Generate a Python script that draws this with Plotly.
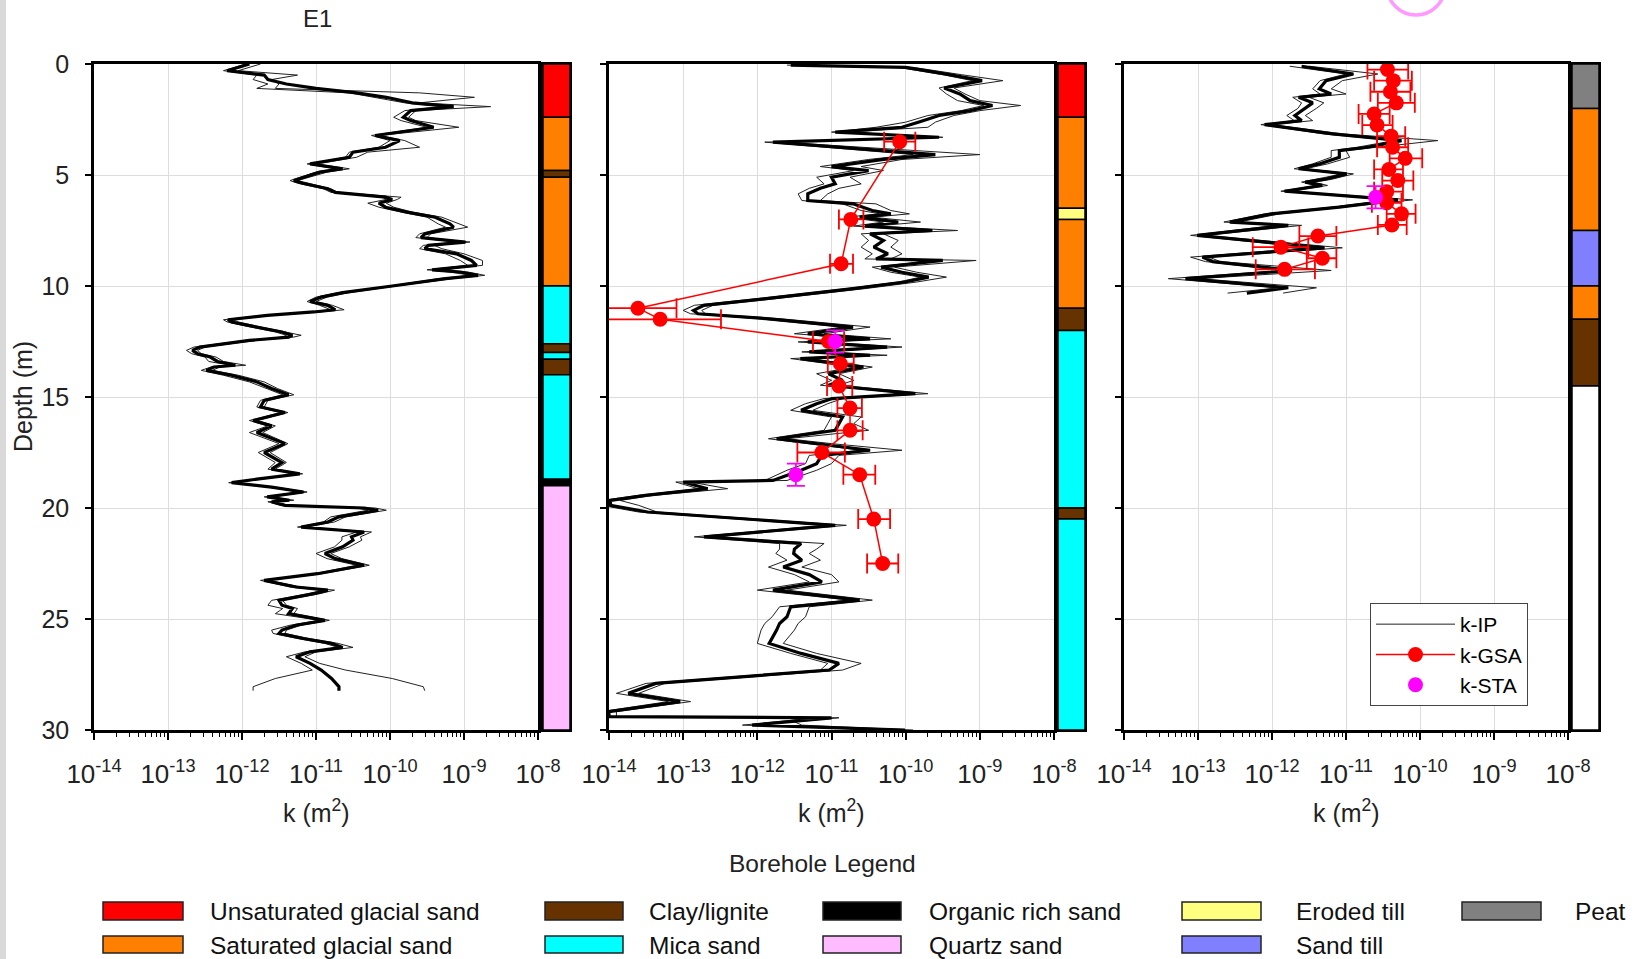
import plotly.graph_objects as go

# ---------------- data (k values stored as log10 exponents, m^2) ----------------
# Panel 1 (E1) k-IP: depth (m), central estimate and two envelope curves
p1_depth = [0.00, 0.30, 0.50, 0.70, 0.90, 1.10, 1.30, 1.50, 1.75, 1.92, 2.10, 2.40, 2.55, 2.85, 3.22, 3.45,
            3.75, 3.97, 4.20, 4.35, 4.50, 4.72, 4.87, 5.25, 5.37, 5.62, 5.78, 6.00, 6.10, 6.27, 6.45, 6.67,
            6.90, 7.20, 7.35, 7.65, 7.82, 8.02, 8.17, 8.32, 8.55, 8.85, 9.07, 9.27, 9.37, 9.52, 9.67, 10.00,
            10.30, 10.50, 10.70, 10.87, 11.07, 11.17, 11.32, 11.52, 11.62, 11.82, 12.07, 12.22, 12.30, 12.45,
            12.75, 12.90, 13.05, 13.20, 13.40, 13.57, 13.65, 13.80, 14.02, 14.32, 14.62, 14.90, 15.15, 15.45,
            15.70, 16.06, 16.30, 16.60, 17.10, 17.50, 17.95, 18.25, 18.46, 18.70, 18.86, 19.06, 19.28, 19.50,
            19.65, 19.72, 19.88, 20.00, 20.10, 20.40, 20.63, 20.86, 21.08, 21.30, 21.45, 21.75, 22.05, 22.28,
            22.58, 22.96, 23.26, 23.56, 23.70, 23.86, 24.16, 24.38, 24.53, 24.76, 25.06, 25.28, 25.50, 25.65,
            25.88, 26.10, 26.28, 26.48, 26.70, 27.00, 27.30, 27.68, 28.05, 28.23]
p1_log10k = [-11.90, -12.20, -11.70, -11.65, -11.40, -11.00, -10.45, -10.05, -9.70, -9.14, -9.72, -9.82, -9.72,
             -9.41, -10.20, -9.87, -10.06, -10.50, -10.55, -10.80, -11.08, -10.64, -10.95, -11.30, -11.18,
             -10.84, -10.74, -10.06, -9.97, -10.15, -10.06, -9.77, -9.39, -9.19, -9.14, -9.53, -9.58, -8.98,
             -9.48, -9.53, -9.10, -8.90, -8.83, -9.43, -9.05, -8.81, -9.25, -9.97, -10.64, -10.93, -11.08,
             -10.84, -10.74, -11.03, -11.66, -12.19, -12.14, -11.85, -11.46, -11.32, -11.37, -11.90, -12.57,
             -12.67, -12.60, -12.43, -12.33, -12.09, -12.38, -12.48, -12.14, -11.80, -11.60, -11.37, -11.70,
             -11.75, -11.42, -11.85, -11.60, -11.80, -11.42, -11.70, -11.46, -11.60, -11.22, -11.80, -12.14,
             -11.60, -11.17, -11.66, -11.36, -11.60, -11.42, -10.35, -10.16, -10.69, -10.84, -11.20, -10.35,
             -10.52, -10.50, -10.64, -10.88, -10.74, -10.35, -10.98, -11.70, -11.27, -10.84, -11.03, -11.50,
             -11.46, -11.32, -11.37, -10.88, -11.27, -11.46, -11.50, -11.17, -10.79, -10.64, -11.08, -11.27,
             -11.08, -10.93, -10.79, -10.69, -10.69]
p1_log10k_lo = [-11.95, -12.25, -11.80, -11.85, -11.65, -11.80, -10.55, -10.20, -9.80, -9.30, -9.80, -9.95,
                -9.85, -9.50, -10.25, -10.00, -10.15, -10.55, -10.60, -10.85, -11.12, -10.75, -11.00, -11.35,
                -11.25, -10.90, -10.80, -10.10, -10.05, -10.30, -10.15, -9.85, -9.50, -9.35, -9.25, -9.60,
                -9.65, -9.10, -9.55, -9.60, -9.25, -9.05, -8.95, -9.50, -9.20, -8.90, -9.35, -10.00, -10.70,
                -11.00, -11.12, -10.95, -10.80, -11.10, -11.70, -12.25, -12.20, -11.92, -11.55, -11.40, -11.45,
                -11.95, -12.65, -12.75, -12.68, -12.50, -12.45, -12.15, -12.42, -12.55, -12.25, -11.90, -11.68,
                -11.45, -11.75, -11.80, -11.48, -11.90, -11.65, -11.90, -11.50, -11.78, -11.55, -11.65, -11.28,
                -11.85, -12.18, -11.65, -11.22, -11.70, -11.42, -11.65, -11.48, -10.45, -10.30, -10.80, -10.90,
                -11.25, -10.45, -10.65, -10.65, -10.75, -11.00, -10.85, -10.45, -11.02, -11.75, -11.35, -10.92,
                -11.10, -11.60, -11.65, -11.45, -11.55, -10.95, -11.35, -11.60, -11.58, -11.25, -10.88, -10.70,
                -11.15, -11.40, -11.20, -11.05, -11.55, -11.85, -11.85]
p1_log10k_hi = [-11.75, -12.05, -11.25, -11.60, -11.50, -11.55, -9.60, -8.86, -9.60, -8.64, -9.65, -9.75,
                -9.65, -9.07, -10.15, -9.80, -9.60, -10.30, -10.45, -10.70, -11.00, -10.55, -10.85, -11.25,
                -11.10, -10.80, -10.70, -9.85, -9.90, -10.05, -9.95, -9.70, -9.30, -9.05, -8.95, -9.45, -9.50,
                -8.92, -9.40, -9.30, -9.00, -8.75, -8.75, -9.35, -8.95, -8.72, -9.15, -9.92, -10.55, -10.85,
                -11.00, -10.78, -10.62, -10.95, -11.60, -12.12, -12.05, -11.78, -11.40, -11.20, -11.30, -11.80,
                -12.50, -12.60, -12.55, -12.35, -12.25, -11.95, -12.30, -12.40, -12.05, -11.70, -11.52, -11.30,
                -11.65, -11.70, -11.38, -11.80, -11.55, -11.72, -11.38, -11.62, -11.40, -11.55, -11.18, -11.75,
                -12.10, -11.55, -11.12, -11.60, -11.30, -11.55, -11.38, -10.20, -10.05, -10.60, -10.75, -11.15,
                -10.25, -10.40, -10.38, -10.55, -10.80, -10.65, -10.28, -10.92, -11.65, -11.20, -10.75, -10.95,
                -11.45, -11.40, -11.25, -11.30, -10.82, -11.20, -11.40, -11.42, -11.10, -10.70, -10.50, -11.00,
                -11.15, -10.95, -10.60, -9.97, -9.55, -9.53]

# Panel 2 k-IP
p2_depth = [0.05, 0.15, 0.48, 0.75, 1.08, 1.35, 1.65, 1.87, 2.10, 2.32, 2.62, 2.85, 3.07, 3.30, 3.52, 4.08,
            4.30, 4.62, 4.80, 5.10, 5.40, 5.60, 5.85, 6.15, 6.30, 6.60, 6.75, 6.90, 7.12, 7.30, 7.50, 7.65,
            7.95, 8.25, 8.55, 8.78, 8.85, 9.15, 9.38, 9.60, 9.82, 10.12, 10.57, 10.87, 11.10, 11.25, 11.47,
            11.85, 12.15, 12.38, 12.52, 12.75, 12.97, 13.12, 13.27, 13.65, 13.95, 14.25, 14.47, 14.85, 15.07,
            15.30, 15.60, 15.90, 16.20, 16.50, 16.88, 17.10, 17.40, 17.63, 18.00, 18.30, 18.76, 18.83, 19.13,
            19.43, 19.66, 19.88, 20.18, 20.78, 21.30, 21.60, 21.85, 22.05, 22.35, 22.66, 23.00, 23.33, 23.70,
            24.15, 24.45, 24.90, 25.20, 25.50, 26.10, 26.55, 27.00, 27.30, 27.90, 28.35, 28.72, 29.17, 29.40,
            29.45, 29.63, 29.78, 30.00]
p2_log10k = [-11.55, -10.00, -9.41, -8.97, -9.48, -9.27, -9.13, -8.83, -9.13, -9.55, -9.83, -10.05, -10.95,
             -9.55, -11.79, -9.60, -10.30, -11.00, -10.50, -11.00, -10.95, -11.15, -11.32, -11.32, -10.71,
             -10.45, -10.20, -10.62, -10.10, -10.55, -9.64, -10.48, -10.30, -10.43, -10.24, -10.40, -9.50,
             -10.33, -10.05, -9.69, -10.01, -10.71, -11.88, -12.72, -12.86, -12.80, -11.88, -10.71, -11.32,
             -10.48, -11.32, -10.25, -11.30, -10.48, -11.42, -10.57, -11.04, -10.85, -11.04, -9.87, -10.99,
             -11.20, -11.41, -10.85, -10.90, -10.95, -11.74, -11.18, -10.48, -11.13, -11.20, -11.41, -11.79,
             -13.00, -12.67, -13.51, -13.98, -13.98, -13.48, -10.95, -12.72, -11.41, -11.50, -11.51, -11.40,
             -11.65, -11.30, -11.13, -11.79, -10.62, -11.55, -11.60, -11.70, -11.74, -11.84, -11.41, -10.90,
             -11.03, -13.37, -13.74, -13.04, -14.00, -14.00, -11.00, -11.65, -12.07, -10.01]
p2_log10k_lo = [-11.60, -10.10, -9.50, -9.10, -9.55, -9.45, -9.30, -8.95, -9.25, -9.70, -10.00, -10.40, -11.00,
                -9.60, -11.90, -9.90, -10.50, -11.15, -10.70, -11.20, -11.10, -11.30, -11.45, -11.40, -10.85,
                -10.60, -10.35, -10.80, -10.30, -10.70, -9.80, -10.60, -10.50, -10.60, -10.45, -10.55, -9.60,
                -10.45, -10.20, -9.80, -10.10, -10.80, -12.00, -12.85, -13.00, -12.90, -12.00, -10.85, -11.50,
                -10.60, -11.45, -10.40, -11.40, -10.60, -11.55, -10.70, -11.20, -11.00, -11.15, -9.95, -11.10,
                -11.35, -11.55, -11.00, -11.05, -11.10, -11.85, -11.30, -10.60, -11.30, -11.35, -11.60, -11.90,
                -13.10, -12.80, -13.60, -14.10, -14.10, -13.60, -11.10, -12.85, -11.70, -11.70, -11.75, -11.60,
                -11.85, -11.50, -11.30, -12.00, -10.75, -11.70, -11.80, -11.90, -11.95, -12.00, -11.55, -11.05,
                -11.15, -13.50, -13.90, -13.20, -14.10, -14.10, -11.20, -11.80, -12.20, -10.20]
p2_log10k_hi = [-11.50, -9.90, -9.25, -8.69, -9.35, -9.20, -9.00, -8.45, -9.00, -9.35, -9.60, -9.70, -10.80,
                -9.50, -11.70, -9.00, -10.05, -10.60, -10.30, -10.75, -10.60, -10.90, -11.05, -11.15, -10.40,
                -10.20, -9.95, -10.45, -9.80, -10.40, -9.30, -10.30, -10.10, -10.20, -10.05, -10.20, -9.05,
                -10.15, -9.85, -9.45, -9.85, -10.55, -11.75, -12.60, -12.75, -12.70, -11.70, -10.48, -11.10,
                -10.20, -11.15, -10.05, -11.15, -10.25, -11.30, -10.45, -10.90, -10.70, -10.90, -9.70, -10.85,
                -11.05, -11.25, -10.60, -10.70, -10.50, -11.60, -11.00, -10.05, -10.90, -11.00, -11.20, -11.60,
                -12.90, -12.40, -13.40, -13.85, -13.60, -13.35, -10.80, -12.60, -11.10, -11.20, -11.30, -11.15,
                -11.40, -11.00, -10.90, -11.60, -10.45, -11.30, -11.35, -11.45, -11.50, -11.65, -11.20, -10.60,
                -10.85, -13.25, -13.60, -12.90, -13.90, -13.90, -10.90, -11.50, -11.40, -9.90]

# Panel 3 k-IP
p3_depth = [0.10, 0.45, 0.75, 1.12, 1.35, 1.50, 1.75, 2.00, 2.32, 2.55, 2.73, 3.15, 3.45, 3.75, 3.90, 4.20,
            4.50, 4.72, 4.95, 5.20, 5.32, 5.47, 5.73, 6.12, 6.45, 6.75, 7.12, 7.27, 7.72, 8.28, 8.70, 8.90,
            9.30, 9.67, 10.08, 10.32]
p3_log10k = [-11.60, -10.90, -11.27, -11.36, -11.20, -11.64, -11.45, -11.55, -11.69, -11.60, -12.10, -11.18,
             -10.25, -10.71, -11.09, -11.09, -11.36, -11.64, -10.99, -11.30, -11.55, -11.32, -11.83, -10.30,
             -11.09, -12.01, -12.57, -11.78, -13.01, -11.29, -12.94, -12.80, -11.73, -13.17, -11.78, -12.34]
p3_log10k_lo = [-11.76, -11.00, -11.35, -11.45, -11.35, -11.72, -11.60, -11.65, -11.80, -11.70, -12.15, -11.30,
                -10.35, -10.85, -11.20, -11.20, -11.45, -11.70, -11.05, -11.40, -11.60, -11.40, -11.88, -10.40,
                -11.20, -12.10, -12.65, -11.95, -13.10, -11.50, -13.10, -12.90, -11.85, -13.40, -11.90, -12.60]
p3_log10k_hi = [-11.50, -10.57, -11.05, -11.20, -11.00, -11.50, -11.30, -11.40, -11.55, -11.45, -12.00, -11.05,
                -9.76, -10.60, -11.00, -10.95, -11.25, -11.55, -10.90, -11.20, -11.45, -11.25, -11.75, -10.10,
                -11.00, -11.90, -12.45, -11.60, -12.90, -11.05, -12.85, -12.70, -11.20, -13.00, -11.40, -11.85]

# k-GSA (grain size analysis) points with horizontal error bounds
p2_gsa_depth = [3.5, 7.0, 9.0, 11.0, 11.5, 12.5, 13.5, 14.5, 15.5, 16.5, 17.5, 18.5, 20.5, 22.5]
p2_gsa_log10k = [-10.08, -10.74, -10.87, -13.61, -13.31, -11.04, -10.88, -10.90, -10.75, -10.75, -11.13, -10.62, -10.43, -10.31]
p2_gsa_log10k_lo = [-10.29, -10.90, -11.02, -15.00, -15.00, -11.25, -11.05, -11.06, -10.92, -10.92, -11.46, -10.84, -10.64, -10.52]
p2_gsa_log10k_hi = [-9.87, -10.57, -10.71, -13.09, -12.49, -10.83, -10.70, -10.72, -10.59, -10.58, -10.82, -10.41, -10.21, -10.10]

p3_gsa_depth = [0.25, 0.75, 1.25, 1.75, 2.25, 2.75, 3.25, 3.75, 4.25, 4.75, 5.25, 5.75, 6.25, 6.75, 7.25, 7.75, 8.25, 8.75, 9.25]
p3_gsa_log10k = [-10.44, -10.36, -10.40, -10.32, -10.62, -10.58, -10.39, -10.37, -10.20, -10.42, -10.30, -10.45,
                 -10.45, -10.25, -10.38, -11.38, -11.88, -11.32, -11.83]
p3_gsa_log10k_lo = [-10.71, -10.62, -10.67, -10.57, -10.83, -10.78, -10.58, -10.58, -10.41, -10.62, -10.51, -10.62,
                    -10.65, -10.45, -10.57, -11.63, -12.26, -11.53, -12.22]
p3_gsa_log10k_hi = [-10.16, -10.11, -10.13, -10.07, -10.41, -10.37, -10.20, -10.16, -9.97, -10.23, -10.09, -10.23,
                    -10.25, -10.06, -10.18, -11.13, -11.51, -11.13, -11.42]

# k-STA points with vertical (depth) error
p2_sta_depth = [12.5, 18.5]
p2_sta_log10k = [-10.95, -11.48]
p2_sta_depth_err = [0.5, 0.5]
p3_sta_depth = [6.0]
p3_sta_log10k = [-10.60]
p3_sta_depth_err = [0.5]

# Borehole lithology columns
s1_top = [0.0, 2.4, 4.8, 5.1, 10.0, 12.6, 13.0, 13.3, 14.0, 18.7, 19.0]
s1_bot = [2.4, 4.8, 5.1, 10.0, 12.6, 13.0, 13.3, 14.0, 18.7, 19.0, 30.0]
s1_unit = ['Unsaturated glacial sand', 'Saturated glacial sand', 'Clay/lignite', 'Saturated glacial sand',
           'Mica sand', 'Clay/lignite', 'Mica sand', 'Clay/lignite', 'Mica sand', 'Organic rich sand', 'Quartz sand']
s2_top = [0.0, 2.4, 6.5, 7.0, 11.0, 12.0, 20.0, 20.5]
s2_bot = [2.4, 6.5, 7.0, 11.0, 12.0, 20.0, 20.5, 30.0]
s2_unit = ['Unsaturated glacial sand', 'Saturated glacial sand', 'Eroded till', 'Saturated glacial sand',
           'Clay/lignite', 'Mica sand', 'Clay/lignite', 'Mica sand']
s3_top = [0.0, 2.0, 7.5, 10.0, 11.5, 14.5]
s3_bot = [2.0, 7.5, 10.0, 11.5, 14.5, 30.0]
s3_unit = ['Peat', 'Saturated glacial sand', 'Sand till', 'Saturated glacial sand', 'Clay/lignite', 'none']

legend_row1 = ['Unsaturated glacial sand', 'Clay/lignite', 'Organic rich sand', 'Eroded till', 'Peat']
legend_row2 = ['Saturated glacial sand', 'Mica sand', 'Quartz sand', 'Sand till']

x_tick_exponents = [-14, -13, -12, -11, -10, -9, -8]
y_ticks = [0, 5, 10, 15, 20, 25, 30]

unit_color = {
    'Unsaturated glacial sand': '#FF0000', 'Saturated glacial sand': '#FF8000', 'Clay/lignite': '#663300',
    'Mica sand': '#00FFFF', 'Organic rich sand': '#000000', 'Quartz sand': '#FFBBFF', 'Eroded till': '#FFFF80',
    'Sand till': '#8080FF', 'Peat': '#808080', 'none': '#FFFFFF'}

# ---------------- layout helpers ----------------
W, H = 1639, 959
FONT = 'Arial, Liberation Sans, sans-serif'

def fx(t):
    return t / W

def fy(t):
    return 1 - t / H

TOP, BOT = 64, 730
panels = [(94, 538), (609, 1054), (1124, 1568)]
strips = [(543, 570), (1058, 1085), (1572, 1599)]

fig = go.Figure()

def exp10(lst):
    return [10 ** v for v in lst]

def ax(n):
    return ('x' if n == 1 else f'x{n}'), ('y' if n == 1 else f'y{n}')

panel_ids = [1, 3, 5]
strip_ids = [2, 4, 6]

kip = [(p1_depth, p1_log10k, p1_log10k_lo, p1_log10k_hi),
       (p2_depth, p2_log10k, p2_log10k_lo, p2_log10k_hi),
       (p3_depth, p3_log10k, p3_log10k_lo, p3_log10k_hi)]

for i, (d, mid, lo, hi) in enumerate(kip):
    xr, yr = ax(panel_ids[i])
    for j, env in enumerate((lo, hi)):
        fig.add_trace(go.Scatter(x=exp10(env), y=d, mode='lines', xaxis=xr, yaxis=yr,
                                 line=dict(color='#222222', width=1),
                                 name='k-IP', showlegend=(i == 2 and j == 0), legendrank=1))
    fig.add_trace(go.Scatter(x=exp10(mid), y=d, mode='lines', xaxis=xr, yaxis=yr,
                             line=dict(color='black', width=3.2), showlegend=False))

def gsa_trace(d, k, lo, hi, xr, yr, show):
    kk = exp10(k)
    plus = [10 ** h - v for h, v in zip(hi, kk)]
    minus = [v - 10 ** l for l, v in zip(lo, kk)]
    return go.Scatter(x=kk, y=d, mode='lines+markers', xaxis=xr, yaxis=yr, name='k-GSA',
                      line=dict(color='#FF0000', width=1.5),
                      marker=dict(color='#FF0000', size=15),
                      error_x=dict(type='data', symmetric=False, array=plus, arrayminus=minus,
                                   color='#FF0000', thickness=1.8, width=10),
                      showlegend=show, legendrank=2)

xr, yr = ax(3)
fig.add_trace(gsa_trace(p2_gsa_depth, p2_gsa_log10k, p2_gsa_log10k_lo, p2_gsa_log10k_hi, xr, yr, False))
xr, yr = ax(5)
fig.add_trace(gsa_trace(p3_gsa_depth, p3_gsa_log10k, p3_gsa_log10k_lo, p3_gsa_log10k_hi, xr, yr, True))

def sta_trace(d, k, derr, xr, yr, show):
    return go.Scatter(x=exp10(k), y=d, mode='markers', xaxis=xr, yaxis=yr, name='k-STA',
                      marker=dict(color='#FF00FF', size=15),
                      error_y=dict(type='data', array=derr, color='#FF00FF', thickness=1.8, width=9),
                      showlegend=show, legendrank=3)

xr, yr = ax(3)
fig.add_trace(sta_trace(p2_sta_depth, p2_sta_log10k, p2_sta_depth_err, xr, yr, False))
xr, yr = ax(5)
fig.add_trace(sta_trace(p3_sta_depth, p3_sta_log10k, p3_sta_depth_err, xr, yr, True))

# lithology columns as stacked bars
for i, (tops, bots, units) in enumerate([(s1_top, s1_bot, s1_unit), (s2_top, s2_bot, s2_unit), (s3_top, s3_bot, s3_unit)]):
    xr, yr = ax(strip_ids[i])
    fig.add_trace(go.Bar(x=[0.5] * len(tops), y=[b - t for t, b in zip(tops, bots)], base=tops,
                         width=1, xaxis=xr, yaxis=yr, showlegend=False,
                         marker=dict(color=[unit_color[u] for u in units], line=dict(color='black', width=1.5)),
                         hovertext=units))

layout = dict(width=W, height=H, autosize=False, margin=dict(l=0, r=0, t=0, b=0, pad=0, autoexpand=False),
              paper_bgcolor='white', plot_bgcolor='white', barmode='overlay',
              font=dict(family=FONT, size=22, color='black'),
              showlegend=True,
              legend=dict(x=fx(1370), y=fy(603), xanchor='left', yanchor='top',
                          bgcolor='white', bordercolor='#444444', borderwidth=1,
                          font=dict(family=FONT, size=21, color='black'), itemwidth=79,
                          tracegroupgap=0))

for i, n in enumerate(panel_ids):
    l, r = panels[i]
    key = 'xaxis' if n == 1 else f'xaxis{n}'
    ykey = 'yaxis' if n == 1 else f'yaxis{n}'
    layout[key] = dict(type='log', range=[-14, -8], automargin=False,
                       tickmode='array', tickvals=exp10(x_tick_exponents),
                       ticktext=[f'10<sup>{e}</sup>' for e in x_tick_exponents],
                       domain=[fx(l), fx(r)], anchor=('y' if n == 1 else f'y{n}'),
                       showline=True, linecolor='black', linewidth=2.5, mirror=True,
                       ticks='outside', ticklen=7, tickwidth=1.5, tickcolor='black',
                       ticklabelstandoff=12,
                       showgrid=True, gridcolor='#dddddd', gridwidth=1, zeroline=False,
                       tickfont=dict(family=FONT, size=26, color='#222222'),
                       minor=dict(ticks='outside', ticklen=4, tickwidth=1, tickcolor='black',
                                  dtick='D1', showgrid=False))
    layout[ykey] = dict(range=[30, 0], automargin=False, tickmode='array', tickvals=y_ticks,
                        domain=[fy(BOT), fy(TOP)],
                        anchor=('x' if n == 1 else f'x{n}'),
                        showline=True, linecolor='black', linewidth=2.5, mirror=True,
                        ticks='outside', ticklen=6, tickwidth=1.5, tickcolor='black',
                        ticklabelstandoff=11,
                        showgrid=True, gridcolor='#dddddd', gridwidth=1, zeroline=False,
                        tickfont=dict(family=FONT, size=25, color='#222222'),
                        showticklabels=(n == 1))

for i, n in enumerate(strip_ids):
    l, r = strips[i]
    layout[f'xaxis{n}'] = dict(range=[0, 1], domain=[fx(l), fx(r)], anchor=f'y{n}', automargin=False,
                               showline=True, linecolor='black', linewidth=2, mirror=True,
                               showgrid=False, zeroline=False, showticklabels=False, ticks='')
    layout[f'yaxis{n}'] = dict(range=[30, 0], domain=[fy(BOT), fy(TOP)], anchor=f'x{n}', automargin=False,
                               showline=True, linecolor='black', linewidth=2, mirror=True,
                               showgrid=False, zeroline=False, showticklabels=False, ticks='')

fig.update_layout(**layout)

def note(text, x, y, size=22, color='#222222', **kw):
    d = dict(text=text, x=fx(x), y=fy(y), xref='paper', yref='paper', showarrow=False,
             xanchor='center', yanchor='middle', font=dict(family=FONT, size=size, color=color))
    d.update(kw)
    return d

ann = [note('E1', 317, 19, size=24),
       note('Depth (m)', 23, 397, size=25, textangle=-90)]
for (l, r) in panels:
    ann.append(note('k (m<sup>2</sup>)', (l + r) / 2, 811, size=25))
ann.append(note('Borehole Legend', 823, 863, size=24.5))

shapes = []
sw_x = [(103, 183), (545, 623), (823, 901), (1182, 1261), (1462, 1541)]
txt_x = [208, 647, 927, 1294, 1573]
rows = [(legend_row1, 902, 920, 911), (legend_row2, 936, 953, 945)]
for names, y0, y1, yc in rows:
    for k, name in enumerate(names):
        x0, x1 = sw_x[k]
        shapes.append(dict(type='rect', xref='paper', yref='paper', x0=fx(x0), x1=fx(x1), y0=fy(y1), y1=fy(y0),
                           fillcolor=unit_color[name], line=dict(color='#222222', width=1.5)))
        ann.append(note(name, txt_x[k], yc, size=24.5, color='#111111', xanchor='left'))

# light grey border strip at the left edge of the image
shapes.append(dict(type='rect', xref='paper', yref='paper', x0=0, x1=fx(6), y0=0, y1=1,
                   fillcolor='#d9d9d9', line=dict(width=0), layer='below'))
# pink circle partially visible at the top
shapes.append(dict(type='circle', xref='paper', yref='paper', x0=fx(1416 - 29), x1=fx(1416 + 29),
                   y0=fy(15), y1=fy(-43), line=dict(color='#FF99FF', width=3.5)))

fig.update_layout(annotations=ann, shapes=shapes)

fig.write_html('out.html', config={'displayModeBar': False},
               post_script="document.body.style.margin='0px';")
